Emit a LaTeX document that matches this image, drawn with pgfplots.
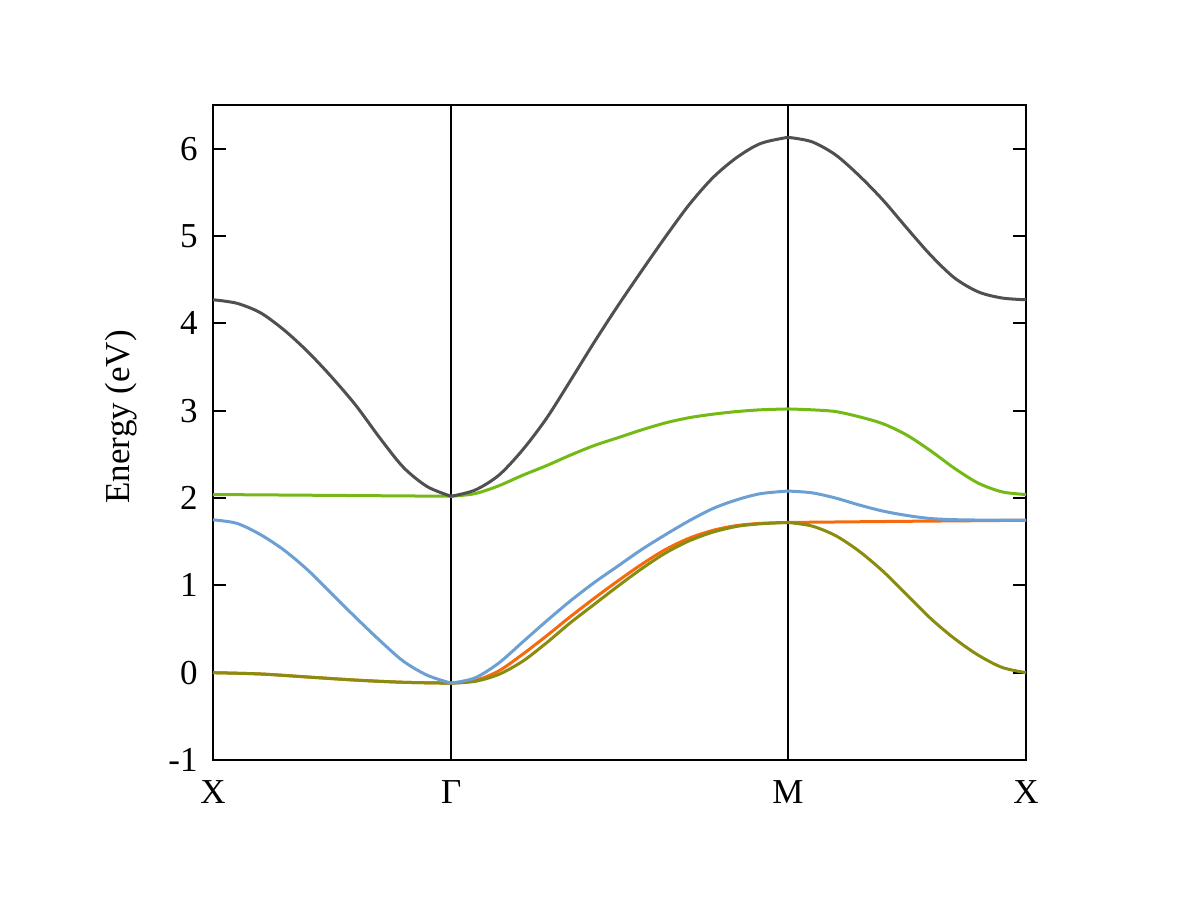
\documentclass[border=0pt]{standalone}
\usepackage{fontspec}
\setmainfont{Liberation Serif}
\usepackage{pgfplots}
\pgfplotsset{compat=1.18}
\definecolor{bgray}{HTML}{505050}
\definecolor{bgreen}{HTML}{74BA14}
\definecolor{bblue}{HTML}{6CA0D4}
\definecolor{borange}{HTML}{F56A0C}
\definecolor{bolive}{HTML}{8A8C10}
\begin{document}
\fontsize{17.5}{21}\selectfont
\begin{tikzpicture}
\useasboundingbox (-106.5pt,-76pt) rectangle (489.5pt,380pt);
\begin{axis}[
 at={(0,0)}, anchor=south west,
 scale only axis, width=406.5pt, height=327.5pt,
 xmin=0, xmax=3.4142, ymin=-1, ymax=6.5,
 xtick={0,1,2.4142,3.4142}, xticklabels={X,Γ,M,X},
 ytick={-1,0,1,2,3,4,5,6}, yticklabels={-1,0,1,2,3,4,5,6},
 tick align=inside, ytick pos=both, yticklabel pos=left,
 major tick length=6.5pt,
 xmajorgrids, x grid style={black, line width=1pt},
 xtick style={draw=none},
 ytick style={black, line width=1.1pt},
 axis line style={black, line width=1.3pt},
 ticklabel style={font=\fontsize{17.5}{21}\selectfont},
 yticklabel style={xshift=-1.7pt},
 xticklabel style={yshift=-4.5pt},
 ylabel={Energy (eV)},
 ylabel style={at={(axis description cs:-0.113,0.524)}, anchor=center, font=\fontsize{17.5}{21}\selectfont},
]
% orange band (drawn first)
\addplot[smooth, line width=1.5pt, borange] coordinates {(0,0)(0.2,-0.015)(0.4,-0.05)(0.6,-0.085)(0.8,-0.11)(1,-0.12)};
\addplot[smooth, line width=1.5pt, borange] coordinates {(1.0,-0.12)(1.1,-0.09)(1.2,0.02)(1.3,0.21)(1.4,0.42)(1.5,0.64)(1.6,0.85)(1.7,1.05)(1.8,1.24)(1.9,1.41)(2.0,1.54)(2.1,1.63)(2.2,1.685)(2.3,1.71)(2.4142,1.72)};
\addplot[smooth, line width=1.5pt, borange] coordinates {(2.4142,1.72)(2.9,1.733)(3.4142,1.745)};
% olive band
\addplot[smooth, line width=1.5pt, bolive] coordinates {(0,0)(0.2,-0.015)(0.4,-0.05)(0.6,-0.085)(0.8,-0.11)(1,-0.12)};
\addplot[smooth, line width=1.5pt, bolive] coordinates {(1.0,-0.12)(1.1,-0.10)(1.2,-0.02)(1.3,0.13)(1.4,0.34)(1.5,0.57)(1.6,0.78)(1.7,0.99)(1.8,1.19)(1.9,1.37)(2.0,1.51)(2.1,1.61)(2.2,1.675)(2.3,1.705)(2.4142,1.72)};
\addplot[smooth, line width=1.5pt, bolive] coordinates {(2.4142,1.72)(2.514,1.68)(2.614,1.57)(2.714,1.39)(2.814,1.16)(2.914,0.89)(3.014,0.62)(3.114,0.39)(3.214,0.20)(3.314,0.06)(3.4142,0.0)};
% blue band
\addplot[smooth, line width=1.5pt, bblue] coordinates {(0,1.75)(0.1,1.71)(0.2,1.58)(0.3,1.40)(0.4,1.17)(0.5,0.90)(0.6,0.63)(0.7,0.37)(0.8,0.13)(0.9,-0.03)(1.0,-0.12)};
\addplot[smooth, line width=1.5pt, bblue] coordinates {(1.0,-0.12)(1.1,-0.06)(1.2,0.11)(1.3,0.35)(1.4,0.59)(1.5,0.82)(1.6,1.03)(1.7,1.22)(1.8,1.41)(1.9,1.58)(2.0,1.74)(2.1,1.88)(2.2,1.98)(2.3,2.05)(2.4142,2.08)};
\addplot[smooth, line width=1.5pt, bblue] coordinates {(2.4142,2.08)(2.514,2.06)(2.614,2.00)(2.714,1.92)(2.814,1.85)(2.914,1.80)(3.014,1.765)(3.114,1.752)(3.214,1.748)(3.4142,1.748)};
% green band
\addplot[smooth, line width=1.5pt, bgreen] coordinates {(0,2.04)(0.5,2.03)(1,2.02)};
\addplot[smooth, line width=1.5pt, bgreen] coordinates {(1.0,2.02)(1.1,2.05)(1.2,2.14)(1.3,2.26)(1.4,2.37)(1.5,2.49)(1.6,2.60)(1.7,2.69)(1.8,2.78)(1.9,2.86)(2.0,2.92)(2.1,2.96)(2.2,2.99)(2.3,3.01)(2.4142,3.02)};
\addplot[smooth, line width=1.5pt, bgreen] coordinates {(2.4142,3.02)(2.514,3.01)(2.614,2.99)(2.714,2.93)(2.814,2.85)(2.914,2.72)(3.014,2.54)(3.114,2.34)(3.214,2.17)(3.314,2.07)(3.4142,2.04)};
% gray band
\addplot[smooth, line width=1.5pt, bgray] coordinates {(0,4.27)(0.1,4.23)(0.2,4.12)(0.3,3.92)(0.4,3.67)(0.5,3.38)(0.6,3.06)(0.7,2.69)(0.8,2.35)(0.9,2.13)(1.0,2.02)};
\addplot[smooth, line width=1.5pt, bgray] coordinates {(1.0,2.02)(1.1,2.09)(1.2,2.26)(1.3,2.55)(1.4,2.91)(1.5,3.34)(1.6,3.78)(1.7,4.20)(1.8,4.60)(1.9,4.99)(2.0,5.36)(2.1,5.67)(2.2,5.90)(2.3,6.06)(2.4142,6.13)};
\addplot[smooth, line width=1.5pt, bgray] coordinates {(2.4142,6.13)(2.514,6.08)(2.614,5.93)(2.714,5.69)(2.814,5.41)(2.914,5.09)(3.014,4.78)(3.114,4.52)(3.214,4.36)(3.314,4.29)(3.4142,4.27)};
\end{axis}
\end{tikzpicture}
\end{document}
